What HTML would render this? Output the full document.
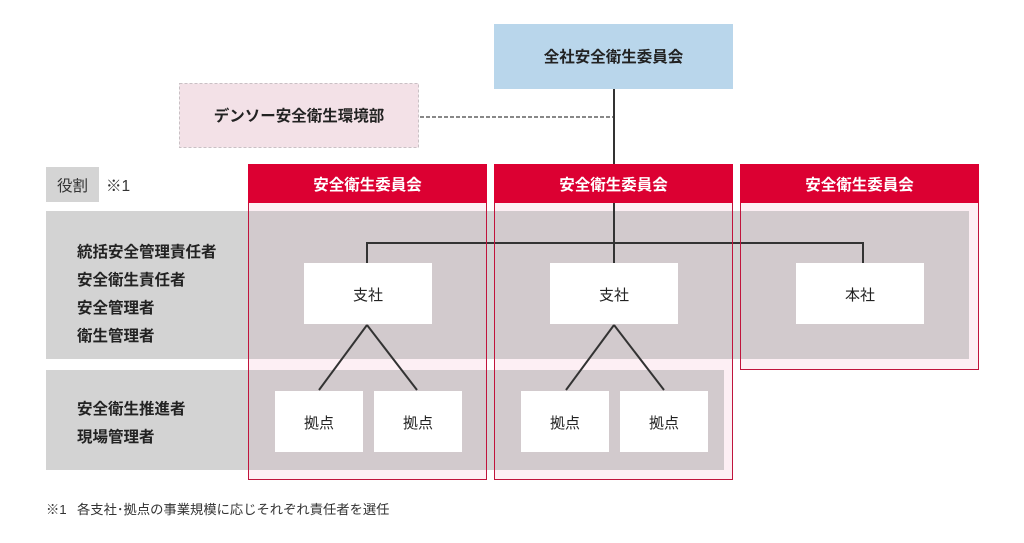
<!DOCTYPE html>
<html><head><meta charset="utf-8">
<style>
html,body{margin:0;padding:0;background:#fff;}
svg{display:block;}
text{font-family:"Liberation Sans","Noto Sans CJK JP",sans-serif;}
</style></head>
<body>
<svg width="1024" height="543" viewBox="0 0 1024 543" xmlns="http://www.w3.org/2000/svg">
<!-- top -->
<rect x="494" y="24" width="239" height="65" fill="#b9d6eb"/>
<text x="613.5" y="62" font-size="15.5" font-weight="bold" fill="#222" text-anchor="middle">全社安全衛生委員会</text>
<rect x="179.5" y="83.5" width="239" height="64" fill="#f3e1e7" stroke="#c9c0c4" stroke-dasharray="3,2"/>
<text x="299" y="121" font-size="15.5" font-weight="bold" fill="#222" text-anchor="middle">デンソー安全衛生環境部</text>
<line x1="420" y1="117" x2="614" y2="117" stroke="#111" stroke-width="1" stroke-dasharray="4,2"/>

<!-- role label -->
<rect x="46" y="167" width="53" height="35" fill="#d4d4d4"/>
<text x="72.5" y="191" font-size="15.5" fill="#333" text-anchor="middle">役割</text>
<text x="106" y="191" font-size="15.5" fill="#333">※1</text>

<!-- column fills -->
<rect x="248" y="164" width="239" height="316" fill="#fdeff4"/>
<rect x="494" y="164" width="239" height="316" fill="#fdeff4"/>
<rect x="740" y="164" width="239" height="206" fill="#fdeff4"/>

<!-- gray bands -->
<rect x="46" y="211" width="923" height="148" fill="rgb(150,150,150)" fill-opacity="0.42"/>
<rect x="46" y="370" width="678" height="100" fill="rgb(150,150,150)" fill-opacity="0.42"/>

<!-- connectors -->
<g stroke="#333" stroke-width="2" fill="none">
<line x1="614" y1="89" x2="614" y2="263"/>
<polyline points="367,263 367,243 863,243 863,263"/>
<line x1="367" y1="325" x2="319" y2="390"/>
<line x1="367" y1="325" x2="417" y2="390"/>
<line x1="614" y1="325" x2="566" y2="390"/>
<line x1="614" y1="325" x2="664" y2="390"/>
</g>

<!-- column borders & headers -->
<rect x="248.5" y="164.5" width="238" height="315" fill="none" stroke="#c0143c" stroke-width="1"/>
<rect x="494.5" y="164.5" width="238" height="315" fill="none" stroke="#c0143c" stroke-width="1"/>
<rect x="740.5" y="164.5" width="238" height="205" fill="none" stroke="#c0143c" stroke-width="1"/>
<rect x="248" y="164" width="239" height="39" fill="#dc0032"/>
<rect x="494" y="164" width="239" height="39" fill="#dc0032"/>
<rect x="740" y="164" width="239" height="39" fill="#dc0032"/>
<text x="367.5" y="190" font-size="15.5" font-weight="bold" fill="#fff" text-anchor="middle">安全衛生委員会</text>
<text x="613.5" y="190" font-size="15.5" font-weight="bold" fill="#fff" text-anchor="middle">安全衛生委員会</text>
<text x="859.5" y="190" font-size="15.5" font-weight="bold" fill="#fff" text-anchor="middle">安全衛生委員会</text>

<!-- role texts -->
<g font-size="15.5" font-weight="bold" fill="#222">
<text x="77" y="257">統括安全管理責任者</text>
<text x="77" y="285">安全衛生責任者</text>
<text x="77" y="313">安全管理者</text>
<text x="77" y="341">衛生管理者</text>
<text x="77" y="414">安全衛生推進者</text>
<text x="77" y="442">現場管理者</text>
</g>

<!-- boxes -->
<g fill="#fff">
<rect x="304" y="263" width="128" height="61"/>
<rect x="550" y="263" width="128" height="61"/>
<rect x="796" y="263" width="128" height="61"/>
<rect x="275" y="391" width="88" height="61"/>
<rect x="374" y="391" width="88" height="61"/>
<rect x="521" y="391" width="88" height="61"/>
<rect x="620" y="391" width="88" height="61"/>
</g>
<g font-size="15" fill="#222" text-anchor="middle">
<text x="368" y="300">支社</text>
<text x="614" y="300">支社</text>
<text x="860" y="300">本社</text>
<text x="319" y="428">拠点</text>
<text x="418" y="428">拠点</text>
<text x="565" y="428">拠点</text>
<text x="664" y="428">拠点</text>
</g>

<!-- footnote -->
<text x="46" y="514" font-size="13.3" fill="#333">※1</text>
<text x="77" y="514" font-size="13.3" fill="#333">各支社･拠点の事業規模に応じそれぞれ責任者を選任</text>
</svg>
</body></html>
